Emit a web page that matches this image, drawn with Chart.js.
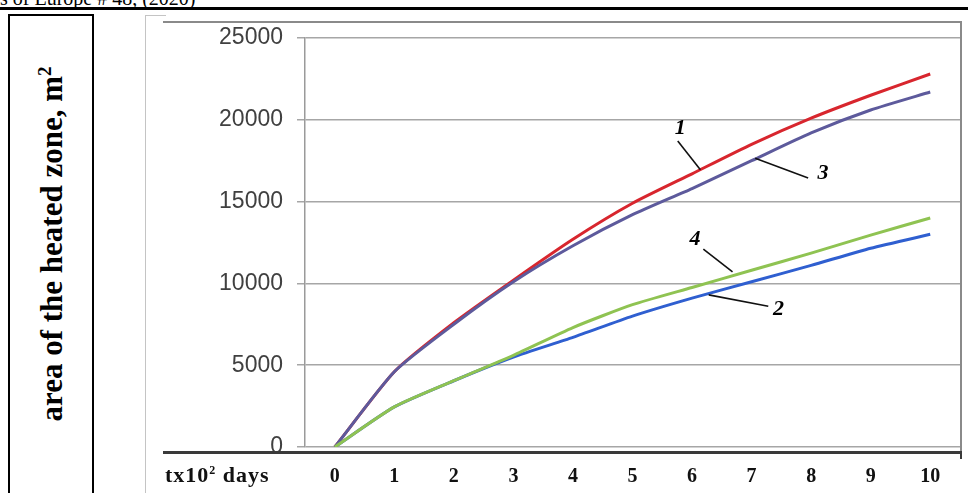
<!DOCTYPE html>
<html>
<head>
<meta charset="utf-8">
<script src="https://cdn.jsdelivr.net/npm/chart.js@4.4.1/dist/chart.umd.min.js"></script>
<style>
  html, body { margin: 0; padding: 0; background: #fff; }
  body { width: 968px; height: 493px; position: relative; overflow: hidden; }
  .hdr { position: absolute; left: 0; top: -12px; font: 20px/20px 'Liberation Serif', serif; color: #000; white-space: nowrap; }
  .rule { position: absolute; left: 0; top: 7px; width: 968px; height: 3px; background: #000; }
  .ybox { position: absolute; left: 8px; top: 14px; width: 82px; height: 500px; border: 2px solid #000; }
  .ylabel { position: absolute; left: 52px; top: 244px; transform: translate(-50%, -50%) rotate(-90deg);
    font: bold 31px 'Liberation Serif', serif; white-space: nowrap; color: #000; }
  .outer { position: absolute; left: 145px; top: 15px; width: 20px; height: 480px; border-left: 1px solid #c4c4c4; border-top: 1px solid #c4c4c4; }
  .frame { position: absolute; left: 163px; top: 21px; width: 797px; height: 430px; border-top: 2px solid #8a8a8a; border-right: 2px solid #8a8a8a; }
  .axisline { position: absolute; left: 163px; top: 451px; width: 799px; height: 3px; background: #3a3a3a; }
  .endtick { position: absolute; left: 960px; top: 451px; width: 2px; height: 8px; background: #3a3a3a; }
  .xname { position: absolute; left: 165px; top: 462px; font: bold 22px 'Liberation Serif', serif; letter-spacing: 1px; color: #111; white-space: nowrap; }
  #wrap { position: absolute; left: 145px; top: 15px; width: 823px; height: 478px; }
</style>
</head>
<body>
<div class="hdr">s of Europe # 48, (2020)</div>
<div class="rule"></div>
<div class="ybox"></div>
<div class="ylabel">area of the heated zone, m<sup style="font-size:19px">2</sup></div>
<div class="outer"></div>
<div class="frame"></div>
<div id="wrap"><canvas id="chart" width="823" height="478"></canvas></div>
<div class="axisline"></div>
<div class="endtick"></div>
<div class="xname">tx10<sup style="font-size:12px">2</sup> days</div>
<script>
const days = ['0', '1', '2', '3', '4', '5', '6', '7', '8', '9', '10']
const curve1 = [0, 4600, 7600, 10200, 12700, 14900, 16700, 18500, 20100, 21500, 22800]
const curve2 = [0, 2450, 4050, 5500, 6700, 8000, 9100, 10100, 11100, 12150, 13000]
const curve3 = [0, 4600, 7500, 10100, 12300, 14200, 15800, 17500, 19200, 20600, 21700]
const curve4 = [0, 2450, 4050, 5600, 7300, 8700, 9750, 10800, 11850, 12950, 14000]
const yTicks = [0, 5000, 10000, 15000, 20000, 25000]

// curve numbers with leader lines, in data units (x = day index)
const marks = [
  { text: '1', at: [5.8, 19500], line: [[5.76, 18700], [6.14, 16950]] },
  { text: '3', at: [8.2, 16700], line: [[7.06, 17650], [7.95, 16450]] },
  { text: '4', at: [6.05, 12700], line: [[6.19, 12100], [6.68, 10700]] },
  { text: '2', at: [7.45, 8400], line: [[6.28, 9300], [7.28, 8600]] },
]

const curveLabels = {
  id: 'curveLabels',
  afterDatasetsDraw(chart) {
    const { ctx, scales: { x, y } } = chart
    ctx.save()
    ctx.strokeStyle = '#111'
    ctx.lineWidth = 1.6
    ctx.fillStyle = '#000'
    ctx.font = 'italic bold 22px "Liberation Serif", serif'
    ctx.textAlign = 'center'
    ctx.textBaseline = 'middle'
    marks.forEach((m) => {
      ctx.beginPath()
      ctx.moveTo(x.getPixelForValue(m.line[0][0]), y.getPixelForValue(m.line[0][1]))
      ctx.lineTo(x.getPixelForValue(m.line[1][0]), y.getPixelForValue(m.line[1][1]))
      ctx.stroke()
      ctx.fillText(m.text, x.getPixelForValue(m.at[0]), y.getPixelForValue(m.at[1]))
    })
    ctx.restore()
  },
}

function line(data, color) {
  return { data, borderColor: color, borderWidth: 3, pointRadius: 0, tension: 0.2, fill: false }
}

new Chart(document.getElementById('chart'), {
  type: 'line',
  data: {
    labels: days,
    datasets: [
      line(curve4, '#8fc352'),
      line(curve3, '#5d5a9c'),
      line(curve2, '#2f5fd0'),
      line(curve1, '#d8262e'),
    ],
  },
  options: {
    responsive: false,
    animation: false,
    layout: { padding: { left: 0, right: 8, top: 23, bottom: 0 } },
    plugins: { legend: { display: false }, tooltip: { enabled: false } },
    scales: {
      x: {
        offset: true,
        grid: { display: false, drawTicks: false },
        border: { display: false },
        ticks: {
          color: '#111',
          padding: 18,
          maxRotation: 0,
          autoSkip: false,
          font: { family: '"Liberation Serif", serif', size: 20, weight: 'bold' },
        },
        afterFit: (s) => { s.height = 46 },
      },
      y: {
        min: 0,
        max: 25000,
        afterBuildTicks: (s) => { s.ticks = yTicks.map((v) => ({ value: v })) },
        grid: { color: '#a6a6a6', lineWidth: 1.5, tickLength: 8 },
        border: { color: '#9a9a9a', width: 1.5 },
        ticks: {
          color: '#404040',
          padding: 14,
          callback: (v) => String(v),
          font: { family: '"Liberation Sans", sans-serif', size: 23 },
        },
        afterFit: (s) => {
          s.width = 160
          s.paddingTop = 0
          s.paddingBottom = 0
        },
      },
    },
  },
  plugins: [curveLabels],
})
</script>
</body>
</html>
